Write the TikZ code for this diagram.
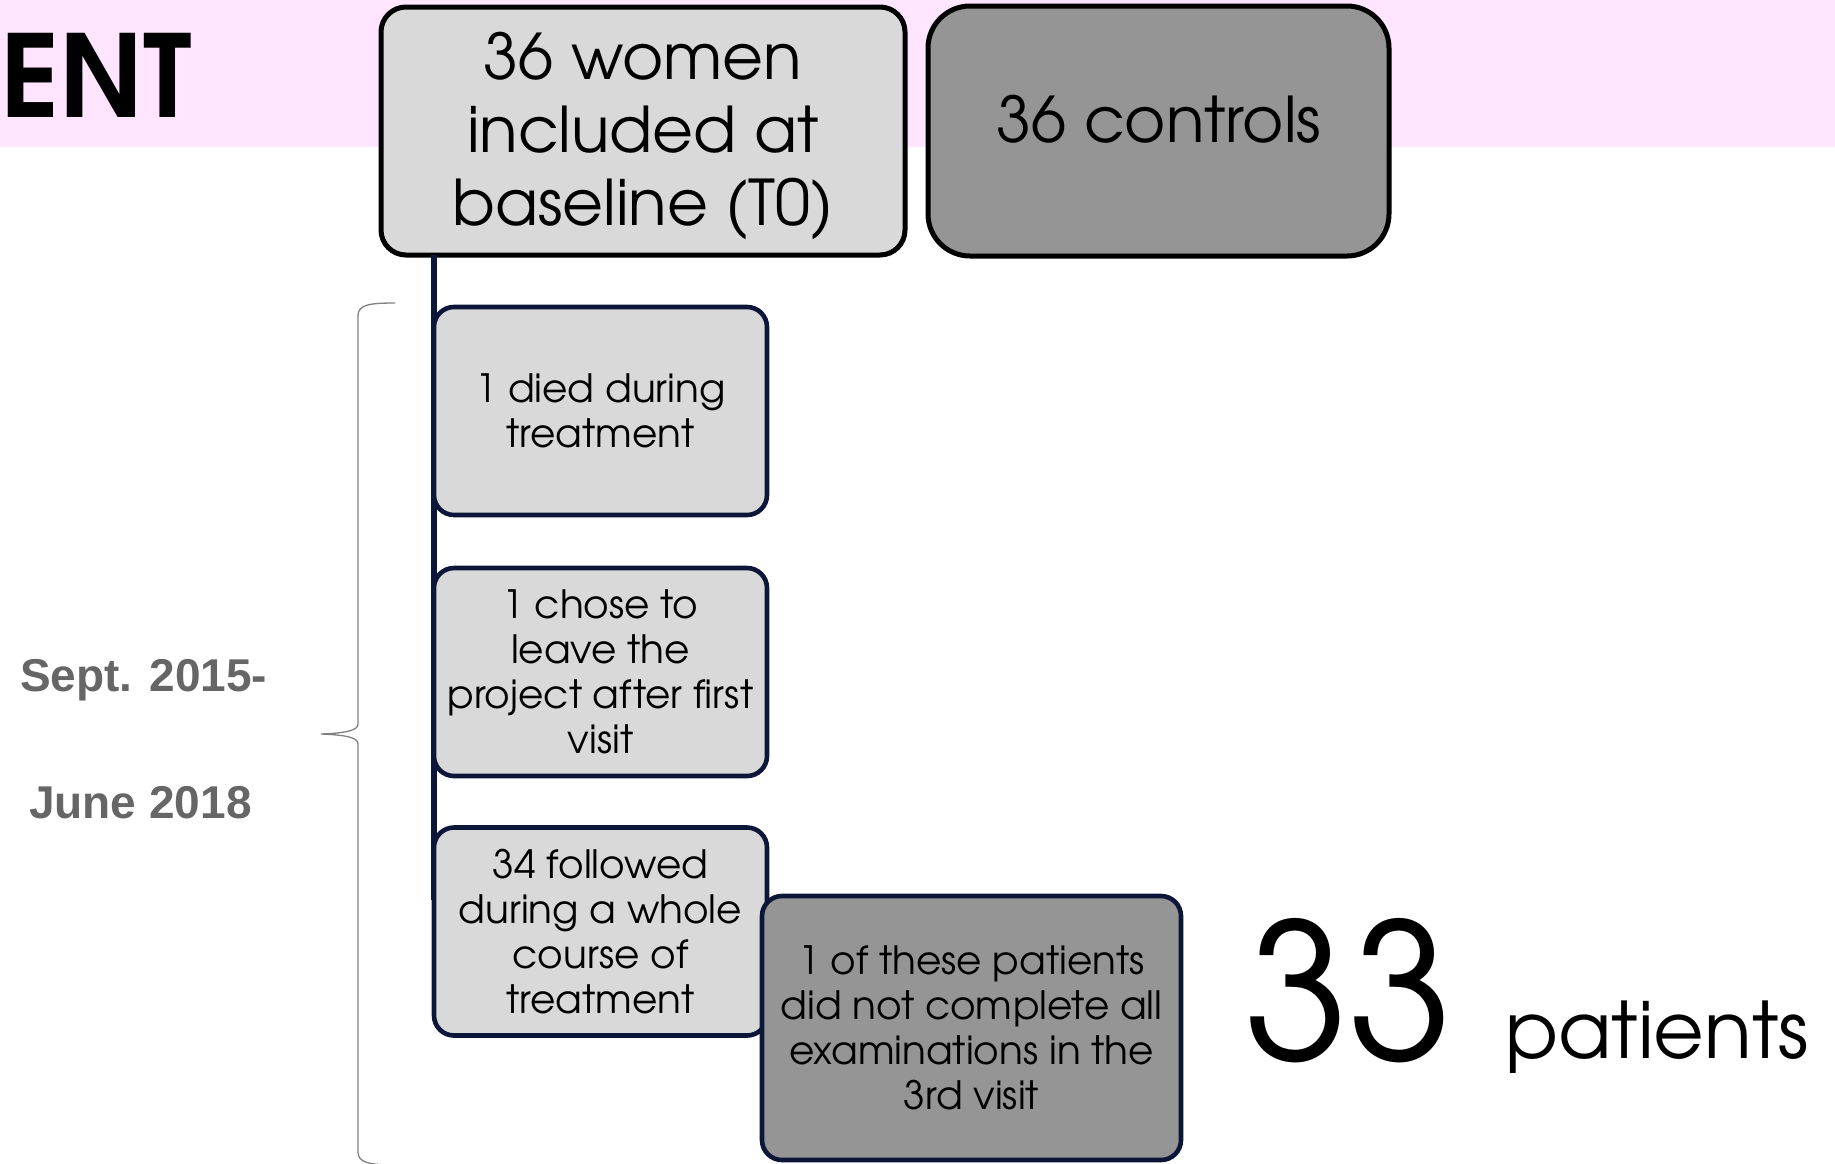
\documentclass[tikz,border=0pt]{standalone}
\usepackage{fontspec}
\newfontfamily\gothic{texgyreadventor}[Extension=.otf, UprightFont=*-regular, BoldFont=*-bold]
\newfontfamily\datefont{Liberation Sans}
\definecolor{bandpink}{HTML}{FFE5FF}
\definecolor{boxlight}{HTML}{D9D9D9}
\definecolor{boxdark}{HTML}{959595}
\definecolor{navy}{HTML}{0C1638}
\definecolor{dategray}{HTML}{666666}
\definecolor{bracegray}{HTML}{808080}
\begin{document}
\begin{tikzpicture}[x=1pt,y=-1pt,
  headbox/.style={draw=black, line width=5pt, rounded corners=25pt, inner sep=0pt,
    outer sep=0pt},
  headtext/.style={inner sep=0pt, align=center, font=\gothic\fontsize{63}{73}\selectfont},
  stagebox/.style={draw=navy, line width=4.6pt, rounded corners=20pt, fill=boxlight,
    inner sep=0pt, outer sep=0pt, align=center, minimum width=333pt, minimum height=208pt,
    font=\gothic\fontsize{39}{45}\selectfont},
  datetext/.style={anchor=base west, inner sep=0pt, text=dategray,
    font=\datefont\bfseries\fontsize{46}{50}\selectfont}]
\path[use as bounding box] (0,0) rectangle (1835,1163);
% header band and title fragment
\fill[bandpink] (0,0) rectangle (1835,147);
\node[anchor=base east, inner sep=0pt, font=\gothic\bfseries\fontsize{114}{114}\selectfont]
  (title) at (192,117) {ENT};
% top-level groups
\node[headbox, fill=boxlight, minimum width=524pt, minimum height=248pt]
  (women) at (643,131) {};
\node[headtext] (womentext) at (643,136) {36 women\\included at\\baseline (T0)};
\node[headbox, fill=boxdark, rounded corners=42pt, minimum width=461pt, minimum height=250pt]
  (controls) at (1158.5,131) {};
\node[headtext] (controlstext) at (1159,119) {36 controls};
% follow-up stages hanging from the baseline group
\coordinate (spine) at (434,900);
\draw[navy, line width=5.6pt] (women.south -| spine) -- (spine);
\node[stagebox] (died) at (600.5,411) {1 died during\\treatment};
\node[stagebox] (left) at (600.5,672) {1 chose to\\leave the\\project after first\\visit};
\node[stagebox] (followed) at (600.5,931.5) {34 followed\\during a whole\\course of\\treatment};
\node[stagebox, fill=boxdark, minimum width=419pt, minimum height=264pt]
  (incomplete) at (971.5,1028) {1 of these patients\\did not complete all\\examinations in the\\3rd visit};
% final count
\node[anchor=base west, inner sep=0pt, font=\gothic\fontsize{189}{189}\selectfont]
  (count) at (1244,1060) {33};
\node[anchor=base west, inner sep=0pt, font=\gothic\fontsize{78}{78}\selectfont]
  (countlabel) at (1505,1058) {patients};
% study period brace
\draw[bracegray, line width=1.3pt]
  (395,303) .. controls (368,303) and (358,305) .. (358,316) -- (358,724)
  .. controls (358,730) and (348,733) .. (321,734)
  .. controls (348,735) and (358,738) .. (358,744) -- (358,1152)
  .. controls (358,1162) and (368,1165) .. (395,1165);
\node[datetext] (start) at (20,691) {Sept. 2015-};
\node[datetext] (end) at (29,818) {June 2018};
\end{tikzpicture}
\end{document}
